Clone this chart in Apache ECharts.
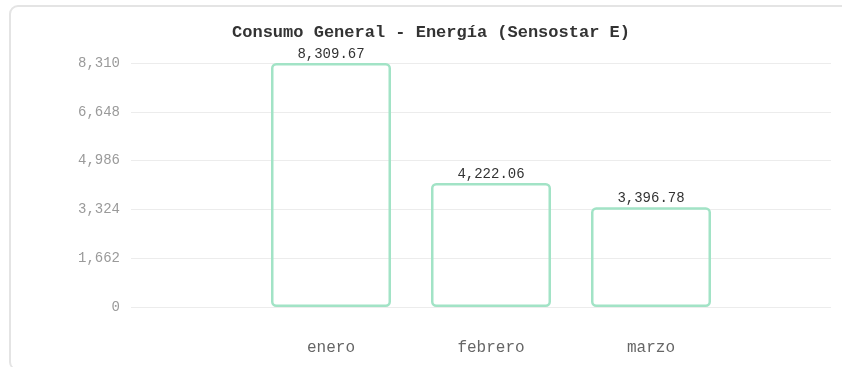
<!DOCTYPE html>
<html>
<head>
<meta charset="utf-8">
<script src="https://cdn.jsdelivr.net/npm/echarts@6/dist/echarts.min.js"></script>
<style>
  html, body { margin: 0; padding: 0; background: #ffffff; overflow: hidden; }
  #card {
    position: absolute; left: 9px; top: 5px; width: 1000px; height: 366px;
    border: 2px solid #e4e4e4; border-radius: 9px; box-sizing: border-box;
  }
  #chart { position: absolute; left: 0; top: 0; width: 842px; height: 367px; }
</style>
</head>
<body>
<div id="card"></div>
<div id="chart"></div>
<script>
// Monthly energy consumption (Sensostar E meter)
const months = ['enero', 'febrero', 'marzo'];
const consumo = [8309.67, 4222.06, 3396.78];
const yTicks = [0, 1662, 3324, 4986, 6648, 8310];

const yMin = yTicks[0];
const yMax = yTicks[yTicks.length - 1];
const yStep = yTicks[1] - yTicks[0];
const font = '"Liberation Mono", "DejaVu Sans Mono", monospace';
const fmtInt = v => Math.round(v).toLocaleString('en-US');
const fmtDec = v => v.toLocaleString('en-US', { minimumFractionDigits: 2, maximumFractionDigits: 2 });

const chart = echarts.init(document.getElementById('chart'), null, { renderer: 'canvas' });
chart.setOption({
  animation: false,
  title: {
    text: 'Consumo General - Energía (Sensostar E)',
    left: 426,
    textAlign: 'center',
    top: 19,
    textStyle: { fontFamily: font, fontSize: 17, fontWeight: 'bold', color: '#333333' }
  },
  grid: [
    { left: 131, right: 11, top: 63, bottom: 60 },
    { left: 251, width: 480, top: 63, bottom: 60 }
  ],
  xAxis: [
    { gridIndex: 0, type: 'category', data: months, show: false },
    {
      gridIndex: 1, type: 'category', data: months,
      axisLine: { show: false }, axisTick: { show: false },
      axisLabel: { margin: 33, fontFamily: font, fontSize: 16, color: '#666666' }
    }
  ],
  yAxis: [
    {
      gridIndex: 0, type: 'value', min: yMin, max: yMax, interval: yStep,
      axisLine: { show: false }, axisTick: { show: false },
      splitLine: { lineStyle: { color: '#ececec', width: 1 } },
      axisLabel: { margin: 11, fontFamily: font, fontSize: 14, color: '#9a9a9a', formatter: fmtInt }
    },
    {
      gridIndex: 1, type: 'value', min: yMin, max: yMax, interval: yStep,
      show: false, splitLine: { show: false }
    }
  ],
  series: [{
    type: 'bar',
    xAxisIndex: 1,
    yAxisIndex: 1,
    data: consumo,
    barWidth: 120,
    itemStyle: {
      color: 'rgba(255,255,255,0)',
      borderColor: '#a2e3c6',
      borderWidth: 2.5,
      borderRadius: 4
    },
    label: {
      show: true,
      position: 'top',
      distance: 2,
      fontFamily: font,
      fontSize: 14,
      color: '#333333',
      formatter: p => fmtDec(p.value)
    }
  }]
});
</script>
</body>
</html>
